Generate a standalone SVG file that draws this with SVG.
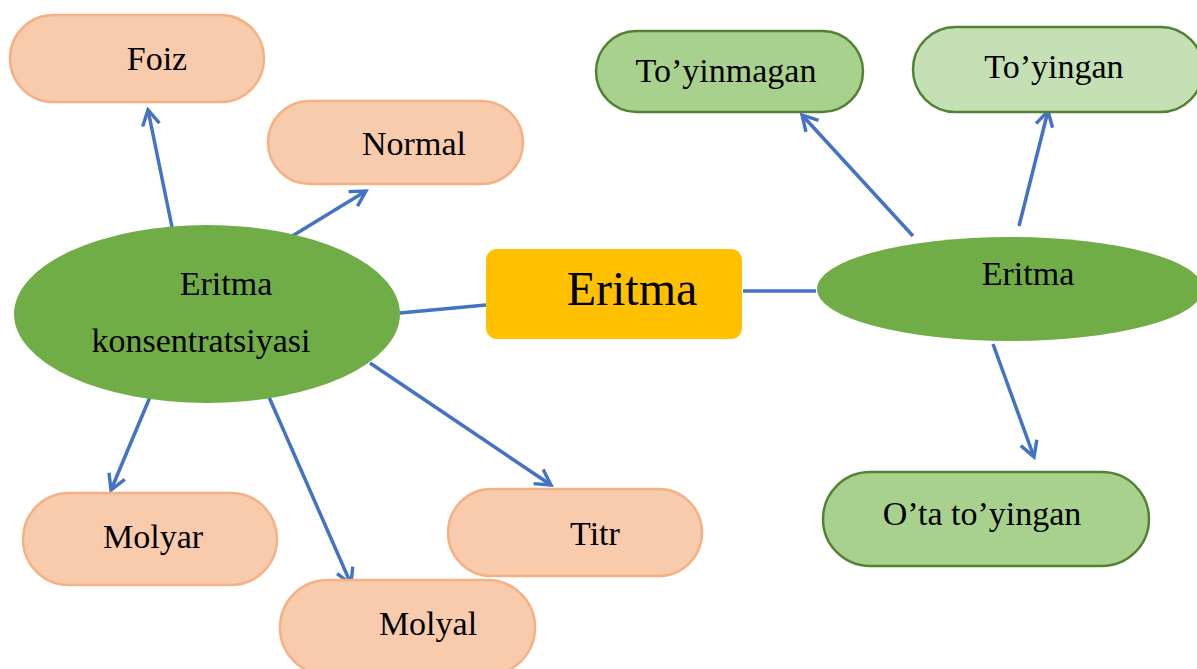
<svg xmlns="http://www.w3.org/2000/svg" width="1197" height="669" viewBox="0 0 1197 669">
<defs>
<style>
.peach{fill:#F8CBAD;stroke:#F4B183;stroke-width:2.5}
.green{fill:#A9D18E;stroke:#548235;stroke-width:2.5}
.lgreen{fill:#C5E0B4;stroke:#548235;stroke-width:2.5}
.ell{fill:#70AD47;stroke:none}
.t{font-family:"Liberation Serif","Times New Roman",serif;font-size:34px;fill:#000;text-anchor:middle}
.big{font-size:48px}
.c{stroke:#4472C4;stroke-width:3.5;fill:none}
.a{marker-end:url(#arr)}
</style>
<marker id="arr" viewBox="0 0 12 12" refX="10" refY="6" markerWidth="6.5" markerHeight="6.5" orient="auto" markerUnits="strokeWidth">
<path d="M2,1.5 L10,6 L2,10.5" fill="none" stroke="#4472C4" stroke-width="1.8"/>
</marker>
</defs>
<rect width="1197" height="669" fill="#fff"/>
<g id="connectors">
<line class="c a" x1="173" y1="232" x2="148" y2="110"/>
<line class="c a" x1="289" y1="238" x2="366" y2="191"/>
<line class="c" x1="400" y1="313" x2="486" y2="305"/>
<line class="c a" x1="150" y1="397" x2="111" y2="490"/>
<line class="c a" x1="269" y1="397" x2="351" y2="584"/>
<line class="c a" x1="370" y1="363" x2="551" y2="485"/>
<line class="c" x1="743" y1="291" x2="816" y2="291"/>
<line class="c a" x1="913" y1="236" x2="802" y2="115"/>
<line class="c a" x1="1019" y1="226" x2="1048" y2="111"/>
<line class="c a" x1="993" y1="344" x2="1034" y2="457"/>
</g>
<g id="foiz">
<rect class="peach" x="10" y="15" width="254" height="87" rx="43.5"/>
<text class="t" x="157" y="70">Foiz</text>
</g>
<g id="normal">
<rect class="peach" x="268" y="101" width="255" height="83" rx="41.5"/>
<text class="t" x="414" y="155">Normal</text>
</g>
<g id="konsentratsiya">
<ellipse class="ell" cx="207" cy="314" rx="193" ry="89"/>
<text class="t" x="226" y="295">Eritma</text>
<text class="t" x="201" y="352">konsentratsiyasi</text>
</g>
<g id="eritma-center">
<rect x="486" y="249" width="256" height="90" rx="11" fill="#FFC000"/>
<text class="t big" x="632" y="305">Eritma</text>
</g>
<g id="eritma-right">
<ellipse class="ell" cx="1010" cy="289" rx="193" ry="52"/>
<text class="t" x="1028" y="285">Eritma</text>
</g>
<g id="toyinmagan">
<rect class="green" x="596" y="31" width="267" height="81" rx="40.5"/>
<text class="t" x="726" y="82">To’yinmagan</text>
</g>
<g id="toyingan">
<rect class="lgreen" x="913" y="27" width="290" height="85" rx="42.5"/>
<text class="t" x="1054" y="78">To’yingan</text>
</g>
<g id="otatoyingan">
<rect class="green" x="823" y="472" width="326" height="94" rx="47"/>
<text class="t" x="982" y="525">O’ta to’yingan</text>
</g>
<g id="molyar">
<rect class="peach" x="23" y="493" width="254" height="92" rx="46"/>
<text class="t" x="153" y="548">Molyar</text>
</g>
<g id="molyal">
<rect class="peach" x="280" y="580" width="255" height="95" rx="47.5"/>
<text class="t" x="428" y="635">Molyal</text>
</g>
<g id="titr">
<rect class="peach" x="448" y="489" width="254" height="87" rx="43.5"/>
<text class="t" x="595" y="545">Titr</text>
</g>
</svg>
